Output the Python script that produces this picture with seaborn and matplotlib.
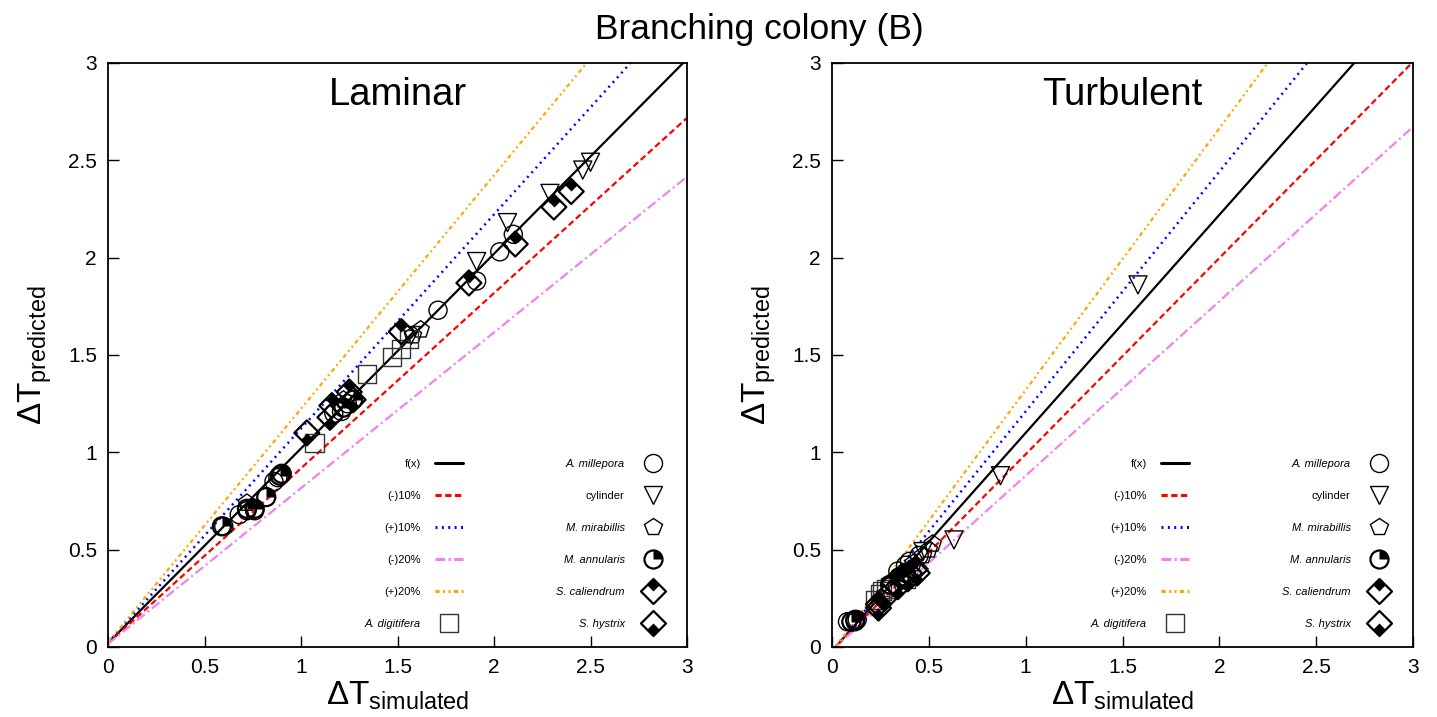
import numpy as np
import pandas as pd
import matplotlib
matplotlib.use("Agg")
import matplotlib.pyplot as plt
import seaborn as sns
from matplotlib.path import Path
from matplotlib.lines import Line2D

# ---------------- data ----------------
TICKS = [0, 0.5, 1, 1.5, 2, 2.5, 3]
TICK_LABELS = ["0", "0.5", "1", "1.5", "2", "2.5", "3"]

# fitted line f(x) = slope * x + intercept for each panel
LAM_SLOPE, LAM_INTERCEPT = 1.0, 0.02
TUR_SLOPE, TUR_INTERCEPT = 1.12, -0.02
BAND_FACTORS = [1.0, 0.9, 1.1, 0.8, 1.2]
BAND_LABELS = ["f(x)", "(-)10%", "(+)10%", "(-)20%", "(+)20%"]

# Laminar
lam_millepora_x = [0.60, 0.68, 0.72, 0.76, 0.86, 0.88, 1.17, 1.21, 1.24, 1.71, 1.91, 2.03, 2.10]
lam_millepora_y = [0.62, 0.68, 0.70, 0.70, 0.85, 0.87, 1.20, 1.21, 1.25, 1.73, 1.88, 2.03, 2.12]
lam_cylinder_x = [1.57, 1.91, 2.07, 2.29, 2.46, 2.50]
lam_cylinder_y = [1.60, 1.98, 2.18, 2.33, 2.45, 2.49]
lam_mirabillis_x = [0.72, 1.22, 1.58, 1.62]
lam_mirabillis_y = [0.74, 1.27, 1.60, 1.63]
lam_annularis_x = [0.59, 0.72, 0.76, 0.82, 0.89, 0.90, 1.22, 1.27]
lam_annularis_y = [0.62, 0.71, 0.71, 0.77, 0.88, 0.89, 1.23, 1.27]
lam_caliendrum_x = [1.16, 1.25, 1.52, 1.87, 2.11, 2.31, 2.40]
lam_caliendrum_y = [1.24, 1.31, 1.62, 1.87, 2.07, 2.26, 2.34]
lam_hystrix_x = [1.03, 1.15, 1.27]
lam_hystrix_y = [1.10, 1.18, 1.27]
lam_digitifera_x = [1.07, 1.34, 1.47, 1.52, 1.56]
lam_digitifera_y = [1.05, 1.40, 1.49, 1.53, 1.58]

# Turbulent
tur_millepora_x = [0.08, 0.10, 0.12, 0.13, 0.34, 0.38, 0.40, 0.45]
tur_millepora_y = [0.13, 0.13, 0.13, 0.14, 0.39, 0.42, 0.44, 0.47]
tur_cylinder_x = [0.47, 0.63, 0.87, 1.58]
tur_cylinder_y = [0.49, 0.55, 0.88, 1.86]
tur_mirabillis_x = [0.42, 0.47, 0.50, 0.52]
tur_mirabillis_y = [0.43, 0.47, 0.50, 0.53]
tur_annularis_x = [0.10, 0.12, 0.30, 0.35, 0.38]
tur_annularis_y = [0.13, 0.14, 0.32, 0.36, 0.38]
tur_caliendrum_x = [0.24, 0.32, 0.36, 0.40, 0.43]
tur_caliendrum_y = [0.22, 0.33, 0.36, 0.38, 0.40]
tur_hystrix_x = [0.24, 0.27, 0.34, 0.39, 0.44]
tur_hystrix_y = [0.20, 0.25, 0.31, 0.35, 0.38]
tur_digitifera_x = [0.22, 0.25, 0.26, 0.28, 0.30, 0.38]
tur_digitifera_y = [0.24, 0.27, 0.29, 0.30, 0.31, 0.35]

# ---------------- style ----------------
sns.set_style("ticks")
plt.rcParams["font.family"] = ["Liberation Sans", "DejaVu Sans"]
plt.rcParams["mathtext.fontset"] = "custom"
plt.rcParams["mathtext.rm"] = "Liberation Sans"
plt.rcParams["mathtext.it"] = "Liberation Sans:italic"
plt.rcParams["mathtext.bf"] = "Liberation Sans:bold"
plt.rcParams["lines.scale_dashes"] = False
for key in ["text.color", "axes.labelcolor", "xtick.color", "ytick.color",
            "axes.edgecolor", "xtick.labelcolor", "ytick.labelcolor"]:
    plt.rcParams[key] = "black"

LINE_STYLES = [
    dict(color="black", linestyle="-", lw=1.6),
    dict(color="#ff0000", linestyle=(0, (4.5, 2.5)), lw=1.6),
    dict(color="#0000ff", linestyle=(0, (1.4, 3.2)), lw=1.8),
    dict(color="#ee82ee", linestyle=(0, (7, 2.5, 1.5, 2.5)), lw=1.6),
    dict(color="#ffa500", linestyle=(0, (3, 2.5, 1.4, 2.5, 1.4, 2.5)), lw=1.6),
]

# custom markers
theta = np.linspace(np.pi / 2, 0, 24)
_wv = [(0, 0)] + [(np.cos(t), np.sin(t)) for t in theta] + [(0, 0)]
QUARTER = Path(_wv, [Path.MOVETO] + [Path.LINETO] * (len(_wv) - 2) + [Path.CLOSEPOLY])
DIAMOND = Path([(0, 1), (1, 0), (0, -1), (-1, 0), (0, 1)],
               [Path.MOVETO, Path.LINETO, Path.LINETO, Path.LINETO, Path.CLOSEPOLY])
DIA_TOP = Path([(0, 1), (0.5, 0.5), (0, 0), (-0.5, 0.5), (0, 1)],
               [Path.MOVETO, Path.LINETO, Path.LINETO, Path.LINETO, Path.CLOSEPOLY])
DIA_BOT = Path([(0, -1), (0.5, -0.5), (0, 0), (-0.5, -0.5), (0, -1)],
               [Path.MOVETO, Path.LINETO, Path.LINETO, Path.LINETO, Path.CLOSEPOLY])
# normalisation helpers so the partial fills keep the outline scale
DIA_TOP_N = Path(list(DIA_TOP.vertices) + [(0, -1)], list(DIA_TOP.codes) + [Path.MOVETO])
DIA_BOT_N = Path(list(DIA_BOT.vertices) + [(0, 1)], list(DIA_BOT.codes) + [Path.MOVETO])

MS = 13      # points
MS_D = 18    # diamond points


def open_scatter(ax, x, y, marker, ms, lw, ec="black"):
    sns.scatterplot(x=x, y=y, ax=ax, marker=marker, s=ms ** 2,
                    facecolors="none", edgecolor=ec, linewidth=lw, zorder=3,
                    legend=False)


def filled_scatter(ax, x, y, marker, ms):
    sns.scatterplot(x=x, y=y, ax=ax, marker=marker, s=ms ** 2,
                    color="black", edgecolor="black", linewidth=0, zorder=4,
                    legend=False)


fig = plt.figure(figsize=(14.37, 7.17), dpi=100)
ax_l = fig.add_axes([108 / 1437, 70 / 717, 579 / 1437, 584 / 717])
ax_r = fig.add_axes([832 / 1437, 70 / 717, 581 / 1437, 584 / 717])

panels = [
    (ax_l, "Laminar", LAM_SLOPE, LAM_INTERCEPT,
     dict(millepora=(lam_millepora_x, lam_millepora_y), cylinder=(lam_cylinder_x, lam_cylinder_y),
          mirabillis=(lam_mirabillis_x, lam_mirabillis_y), annularis=(lam_annularis_x, lam_annularis_y),
          caliendrum=(lam_caliendrum_x, lam_caliendrum_y), hystrix=(lam_hystrix_x, lam_hystrix_y),
          digitifera=(lam_digitifera_x, lam_digitifera_y))),
    (ax_r, "Turbulent", TUR_SLOPE, TUR_INTERCEPT,
     dict(millepora=(tur_millepora_x, tur_millepora_y), cylinder=(tur_cylinder_x, tur_cylinder_y),
          mirabillis=(tur_mirabillis_x, tur_mirabillis_y), annularis=(tur_annularis_x, tur_annularis_y),
          caliendrum=(tur_caliendrum_x, tur_caliendrum_y), hystrix=(tur_hystrix_x, tur_hystrix_y),
          digitifera=(tur_digitifera_x, tur_digitifera_y))),
]

xline = np.array([0.0, 3.0])

for ax, title, slope, icpt, d in panels:
    for fac, st in zip(BAND_FACTORS, LINE_STYLES):
        yl = fac * (slope * xline + icpt)
        sns.lineplot(x=xline, y=yl, ax=ax, errorbar=None, zorder=2, **st)

    open_scatter(ax, *d["millepora"], "o", MS, 1.0)
    open_scatter(ax, *d["cylinder"], "v", MS, 1.0)
    open_scatter(ax, *d["mirabillis"], "p", MS, 1.0)
    open_scatter(ax, *d["digitifera"], "s", MS, 1.0, ec="#333333")
    open_scatter(ax, *d["annularis"], "o", MS, 1.6)
    filled_scatter(ax, *d["annularis"], QUARTER, MS)
    open_scatter(ax, *d["caliendrum"], DIAMOND, MS_D, 1.6)
    filled_scatter(ax, *d["caliendrum"], DIA_TOP_N, MS_D)
    open_scatter(ax, *d["hystrix"], DIAMOND, MS_D, 1.6)
    filled_scatter(ax, *d["hystrix"], DIA_BOT_N, MS_D)

    ax.set_xlim(0, 3)
    ax.set_ylim(0, 3)
    ax.set_xticks(TICKS)
    ax.set_xticklabels(TICK_LABELS)
    ax.set_yticks(TICKS)
    ax.set_yticklabels(TICK_LABELS)
    ax.tick_params(direction="in", length=8, width=1.0, labelsize=15, pad=8,
                   top=False, right=False, color="black", labelcolor="black")
    for sp in ax.spines.values():
        sp.set_visible(True)
        sp.set_linewidth(1.3)
        sp.set_color("black")
    ax.set_xlabel(r"$\Delta\mathrm{T}_{\mathrm{simulated}}$", fontsize=24, labelpad=2, color="black")
    ax.set_ylabel(r"$\Delta\mathrm{T}_{\mathrm{predicted}}$", fontsize=24, labelpad=10, color="black")
    ax.text(0.5, 0.945, title, transform=ax.transAxes, ha="center", va="center",
            fontsize=27.5, color="black")

    # legend (gnuplot-like: text right-aligned, sample on the right)
    handles = []
    for st in LINE_STYLES:
        hst = dict(st)
        hst["lw"] = 2.2
        handles.append(Line2D([], [], **hst))
    handles.append(Line2D([], [], ls="", marker="s", ms=MS, mfc="none", mec="#333333", mew=1.0))
    handles.append(Line2D([], [], ls="", marker="o", ms=MS, mfc="none", mec="black", mew=1.0))
    handles.append(Line2D([], [], ls="", marker="v", ms=MS, mfc="none", mec="black", mew=1.0))
    handles.append(Line2D([], [], ls="", marker="p", ms=MS, mfc="none", mec="black", mew=1.0))
    handles.append((Line2D([], [], ls="", marker="o", ms=MS, mfc="none", mec="black", mew=1.6),
                    Line2D([], [], ls="", marker=QUARTER, ms=MS, mfc="black", mec="black", mew=0)))
    handles.append((Line2D([], [], ls="", marker=DIAMOND, ms=MS_D, mfc="none", mec="black", mew=1.6),
                    Line2D([], [], ls="", marker=DIA_TOP_N, ms=MS_D, mfc="black", mec="black", mew=0)))
    handles.append((Line2D([], [], ls="", marker=DIAMOND, ms=MS_D, mfc="none", mec="black", mew=1.6),
                    Line2D([], [], ls="", marker=DIA_BOT_N, ms=MS_D, mfc="black", mec="black", mew=0)))
    labels = BAND_LABELS + ["A. digitifera", "A. millepora", "cylinder", "M. mirabillis",
                            "M. annularis", "S. caliendrum", "S. hystrix"]
    leg = ax.legend(handles, labels, ncol=2, markerfirst=False, frameon=False,
                    loc="lower right", bbox_to_anchor=(0.975, 0.022), borderpad=0,
                    fontsize=8, handlelength=2.5, handletextpad=1.3,
                    labelspacing=1.97, columnspacing=8.4, labelcolor="black")
    for t in leg.get_texts():
        if t.get_text() not in BAND_LABELS and t.get_text() != "cylinder":
            t.set_fontstyle("italic")

fig.text(759 / 1437, 1 - 29 / 717, "Branching colony (B)", ha="center", va="center",
         fontsize=25.5, color="black")

fig.savefig("out.png", dpi=100)
